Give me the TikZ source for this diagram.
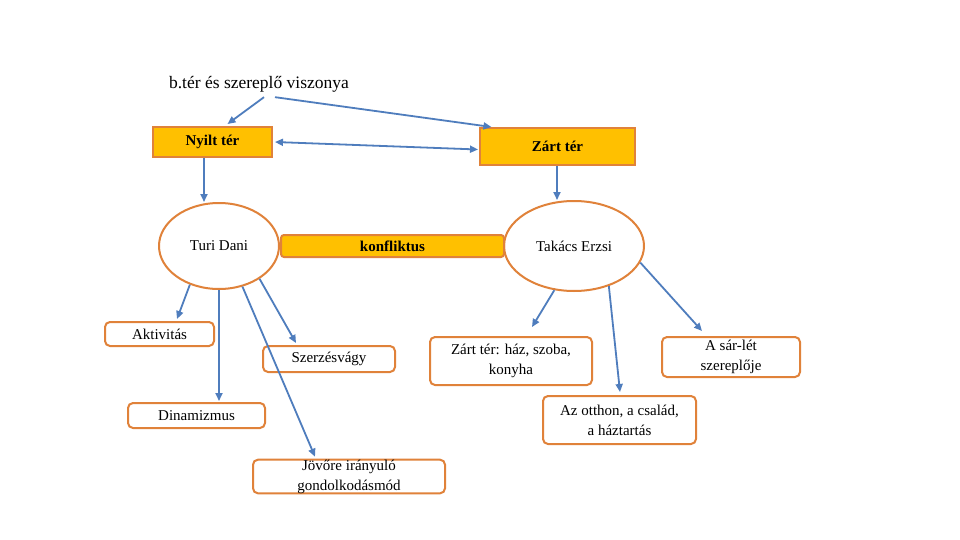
\documentclass[tikz,border=0pt]{standalone}
\usepackage{fontspec}
\setmainfont{Liberation Serif}
\usetikzlibrary{shapes.geometric,calc,arrows.meta}
\definecolor{gold}{HTML}{FFC000}
\definecolor{rim}{HTML}{E0823A}
\definecolor{arr}{HTML}{4F7DBD}
\tikzset{
  body/.style={font=\fontsize{15}{20}\selectfont, text=black},
  goldbox/.style={draw=rim, line width=2pt, fill=gold, rectangle, inner sep=0pt, font=\fontsize{15}{18}\selectfont\bfseries},
  whitebox/.style={draw=rim, line width=2pt, fill=white, rectangle, rounded corners=5pt, inner sep=0pt, align=center, body},
  oval/.style={draw=rim, line width=2pt, fill=white, ellipse, inner sep=0pt, body},
  link/.style={draw=arr, line width=1.8pt, -{Triangle[length=8pt,width=7pt]}},
  dlink/.style={draw=arr, line width=1.8pt, {Triangle[length=8pt,width=7pt]}-{Triangle[length=8pt,width=7pt]}}
}
\begin{document}
\begin{tikzpicture}[x=1pt,y=-1pt]
\useasboundingbox[fill=white] (0,0) rectangle (960,540);

\node[font=\fontsize{17.5}{20}\selectfont, inner sep=0pt] (title) at (259,84) {b.tér és szereplő viszonya};

\node[goldbox, minimum width=119pt, minimum height=30pt] (nyilt) at (212.5,142) {Nyilt tér};
\node[goldbox, minimum width=155pt, minimum height=37pt, font=\fontsize{15}{18}\selectfont\bfseries] (zart) at (557.5,146.5) {Zárt tér};

\node[oval, minimum width=120pt, minimum height=86pt] (turi) at (219,246) {Turi Dani};
\node[oval, minimum width=140pt, minimum height=90pt] (takacs) at (574,246) {Takács Erzsi};
\node[goldbox, rounded corners=3pt, minimum width=223pt, minimum height=22pt] (konf) at (392.5,246) {konfliktus};

\node[whitebox, minimum width=109pt, minimum height=24pt] (aktiv) at (159.5,334) {Aktivitás};
\node[whitebox, minimum width=132pt, minimum height=26pt] (szerz) at (329,359) {Szerzésvágy};
\node[whitebox, minimum width=137pt, minimum height=25pt] (dinam) at (196.5,415.5) {Dinamizmus};
\node[whitebox, minimum width=192pt, minimum height=33pt] (jovo) at (349,476.5) {Jövőre irányuló\\gondolkodásmód};

\node[whitebox, minimum width=162pt, minimum height=48pt] (zartter) at (511,361) {Zárt tér: ház, szoba,\\konyha};
\node[whitebox, minimum width=153pt, minimum height=48pt] (otthon) at (619.5,420) {Az otthon, a család,\\a háztartás};
\node[whitebox, minimum width=138pt, minimum height=40pt] (sarlet) at (731,357) {A sár-lét\\szereplője};

% title arrows
\draw[link] ($(title.south)+(5,5)$) -- ($(nyilt.north)+(15,-2)$);
\draw[link] ($(title.south)+(16,5)$) -- ($(zart.north)+(-66,0)$);
\draw[dlink] ($(nyilt.east)+(2,0)$) -- ($(zart.west)+(-1,3)$);

% down to ellipses
\coordinate (na) at ($(nyilt.south)+(-8.5,0)$);
\draw[link] (na) -- (na |- turi.north);
\coordinate (za) at ($(zart.south)+(-0.5,0)$);
\draw[link] (za) -- (za |- takacs.north);

% Turi Dani branches
\draw[link] (turi.233) -- ($(aktiv.north)+(17.5,-2)$);
\draw[link] (turi.270) -- ($(dinam.north)+(22.5,-1)$);
\draw[link] (turi.300) -- ($(jovo.north)+(-34,-2)$);
\draw[link] (turi.321) -- ($(szerz.north)+(-33,-2)$);

% Takacs branches
\draw[link] (takacs.246) -- ($(zartter.north)+(21,-9)$);
\draw[link] (takacs.311) -- ($(otthon.north)+(0.5,-3)$);
\draw[link] (takacs.346) -- ($(sarlet.north)+(-29,-5)$);
\end{tikzpicture}
\end{document}
